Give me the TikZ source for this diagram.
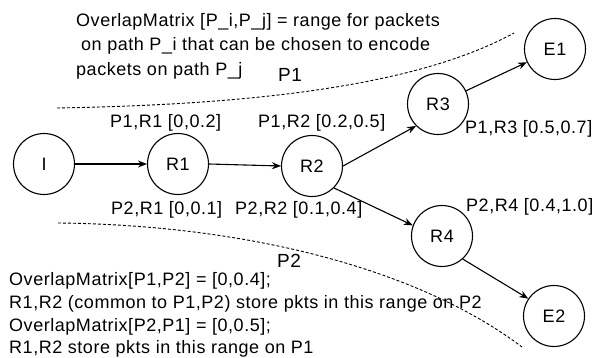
\documentclass[tikz,border=0pt]{standalone}
\usepackage{fontspec}
\setmainfont{Liberation Sans}[LetterSpace=3]
\usetikzlibrary{arrows.meta}
\begin{document}
\begin{tikzpicture}[x=1pt,y=-1pt,
  nd/.style={circle,draw,line width=1.1pt,minimum size=61pt,inner sep=0pt,font=\fontsize{18}{22}\selectfont},
  edge/.style={line width=1.1pt,-{Stealth[length=9pt,width=7pt]}},
  txt/.style={anchor=base west,inner sep=0pt,font=\fontsize{18}{22}\selectfont},
  pathlbl/.style={anchor=base west,inner sep=0pt,font=\fontsize{19}{22}\selectfont},
  bound/.style={line width=0.9pt,dash pattern=on 3pt off 2pt}]
\useasboundingbox (0,0) rectangle (604,358);
% nodes
\node[nd] (I)  at (44,164)  {I};
\node[nd] (R1) at (178,164) {R1};
\node[nd] (R2) at (312,166) {R2};
\node[nd] (R3) at (438,104) {R3};
\node[nd] (E1) at (555,49)  {E1};
\node[nd] (R4) at (442,236) {R4};
\node[nd] (E2) at (554,316) {E2};
% edges
\draw[edge] (I) -- (R1);
\draw[edge] (R1.east) -- (R2.west);
\draw[edge] (R2.east) -- (R3.225);
\draw[edge] (R3) -- (E1);
\draw[edge] (R2.-45) -- (R4.160);
\draw[edge] (R4.-48) -- (E2.146);
% boundary curves
\coordinate (b1s) at (57,108);
\coordinate (b1e) at (514,33);
\coordinate (b2s) at (58,223);
\coordinate (b2e) at (522,347);
\draw[bound] (b1s) .. controls (230,105) and (410,90) .. (b1e);
\draw[bound] (b2s) .. controls (250,225) and (420,270) .. (b2e);
% top text
\node[txt] (t1) at (76,26.5) {OverlapMatrix [P\_i,P\_j] = range for packets};
\node[txt] (t2) at (81,51) {on path P\_i that can be chosen to encode};
\node[txt] (t3) at (76,75.5) {packets on path P\_j};
\node[pathlbl] (p1) at (278,81.5) {P1};
\node[pathlbl] (p2) at (277,267.5) {P2};
% range labels
\node[txt] (l11) at (110,127.5) {P1,R1 [0,0.2]};
\node[txt] (l12) at (258,127.5) {P1,R2 [0.2,0.5]};
\node[txt] (l13) at (465,133.5) {P1,R3 [0.5,0.7]};
\node[txt] (l21) at (111,214.5) {P2,R1 [0,0.1]};
\node[txt] (l22) at (235,214.5) {P2,R2 [0.1,0.4]};
\node[txt] (l24) at (466,211.5) {P2,R4 [0.4,1.0]};
% bottom text
\node[txt] (n1) at (9,285.5) {OverlapMatrix[P1,P2] = [0,0.4];};
\node[txt] (n2) at (9,308.5) {R1,R2 (common to P1,P2) store pkts in this range on P2};
\node[txt] (n3) at (9,331) {OverlapMatrix[P2,P1] = [0,0.5];};
\node[txt] (n4) at (9,353.5) {R1,R2 store pkts in this range on P1};
\end{tikzpicture}
\end{document}
